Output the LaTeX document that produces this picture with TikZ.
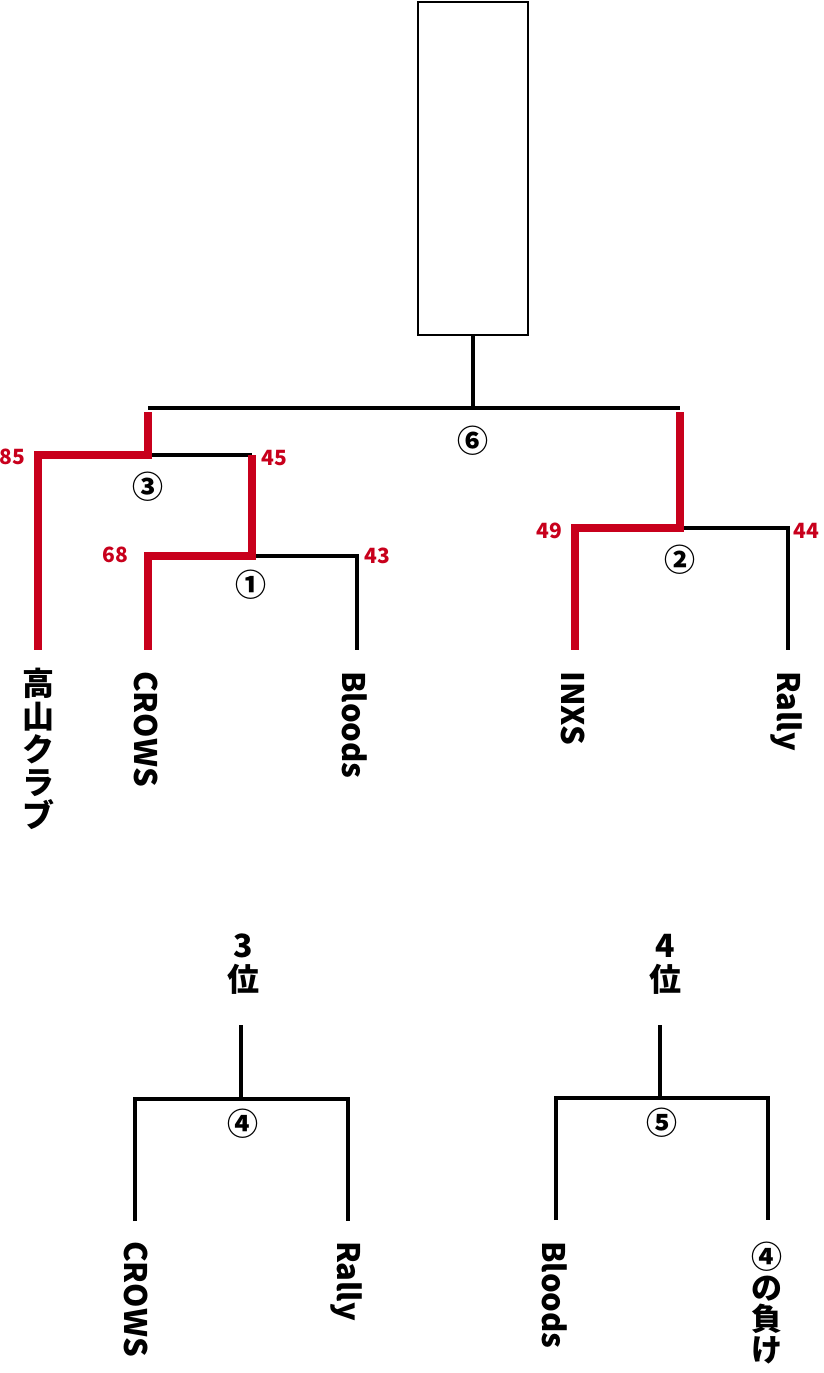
\documentclass[tikz,border=0pt]{standalone}
\usepackage{fontspec}
\setmainfont{Noto Sans CJK JP}
\definecolor{winred}{RGB}{200,0,28}
\begin{document}
\begin{tikzpicture}[x=1pt,y=-1pt,
  blk/.style={line width=3.6pt,black,line join=miter},
  win/.style={line width=7.6pt,winred,line join=miter},
  score/.style={font=\bfseries\fontsize{21}{21}\selectfont,text=winred,inner sep=0pt},
  circnum/.style={font=\bfseries\fontsize{31}{31}\selectfont,inner sep=0pt},
  team/.style={font=\bfseries\fontsize{31}{31}\selectfont,rotate=-90,anchor=west,inner sep=0pt},
  vjp/.style={font=\bfseries\fontsize{32}{33}\selectfont,align=center,anchor=north,inner sep=0pt},
  rank/.style={font=\bfseries\fontsize{32}{34}\selectfont,align=center,inner sep=0pt}]
\useasboundingbox (0,0) rectangle (823,1373);
% champion box
\node[draw,line width=2pt,minimum width=110pt,minimum height=333pt,inner sep=0pt] (box) at (473,168.5) {};
% coordinates
\coordinate (f) at (473,408);
\coordinate (fl) at (148,408);
\coordinate (fr) at (680,408);
\coordinate (m3) at (148,455);
\coordinate (m3l) at (38,455);
\coordinate (m3r) at (252,455);
\coordinate (m1) at (252,556);
\coordinate (m1l) at (148,556);
\coordinate (m1r) at (357,556);
\coordinate (m2) at (680,528);
\coordinate (m2l) at (575,528);
\coordinate (m2r) at (788,528);
\coordinate (l1) at (38,650);
\coordinate (l2) at (148,650);
\coordinate (l3) at (357,650);
\coordinate (l4) at (575,650);
\coordinate (l5) at (788,650);
% final
\draw[blk] (box.south) -- (f);
\draw[blk] (fl) -- (fr);
% game 3
\draw[blk] (m3) -- (m3r);
% game 1
\draw[blk] (m1) -- (m1r) -- (l3);
% game 2
\draw[blk] (m2) -- (m2r) -- (l5);
% winners' paths
\draw[win] ([yshift=-4pt]fl) -- (m3) -- (m3l) -- (l1);
\draw[win] (m3r) -- (m1) -- (m1l) -- (l2);
\draw[win] ([yshift=-4pt]fr) -- (m2) -- (m2l) -- (l4);
% scores
\node[score] (s85) at (12,457) {85};
\node[score] (s45) at (274,458) {45};
\node[score] (s68) at (115,555) {68};
\node[score] (s43) at (377,556) {43};
\node[score] (s49) at (549,531) {49};
\node[score] (s44) at (806,531) {44};
% game numbers
\node[circnum] (g6) at (473,441) {⑥};
\node[circnum] (g3) at (148,487) {③};
\node[circnum] (g1) at (251,585) {①};
\node[circnum] (g2) at (680,560) {②};
% teams
\node[vjp] (t1) at (38,668) {高\\山\\ク\\ラ\\ブ};
\node[team] (t2) at (146,671) {CROWS};
\node[team] (t3) at (355,671) {Bloods};
\node[team] (t4) at (573,671) {INXS};
\node[team] (t5) at (786,671) {Rally};
% 3rd place
\node[rank] (r3) at (243,964) {3\\位};
\coordinate (b4) at (241,1099);
\coordinate (b4l) at (135,1099);
\coordinate (b4r) at (348,1099);
\coordinate (b4a) at (135,1221);
\coordinate (b4b) at (348,1221);
\draw[blk] (241,1025) -- (b4);
\draw[blk] (b4a) -- (b4l) -- (b4r) -- (b4b);
\node[circnum] (g4) at (243,1124) {④};
\node[team] (u1) at (136,1241) {CROWS};
\node[team] (u2) at (346,1241) {Rally};
% 4th place
\node[rank] (r4) at (665,964) {4\\位};
\coordinate (b5) at (660,1098);
\coordinate (b5l) at (556,1098);
\coordinate (b5r) at (768,1098);
\coordinate (b5a) at (556,1220);
\coordinate (b5b) at (768,1220);
\draw[blk] (660,1025) -- (b5);
\draw[blk] (b5a) -- (b5l) -- (b5r) -- (b5b);
\node[circnum] (g5) at (662,1123) {⑤};
\node[team] (u3) at (555,1241) {Bloods};
\node[vjp,font=\bfseries\fontsize{31}{31}\selectfont] (u4) at (767,1242) {④\\の\\負\\け};
\end{tikzpicture}
\end{document}
